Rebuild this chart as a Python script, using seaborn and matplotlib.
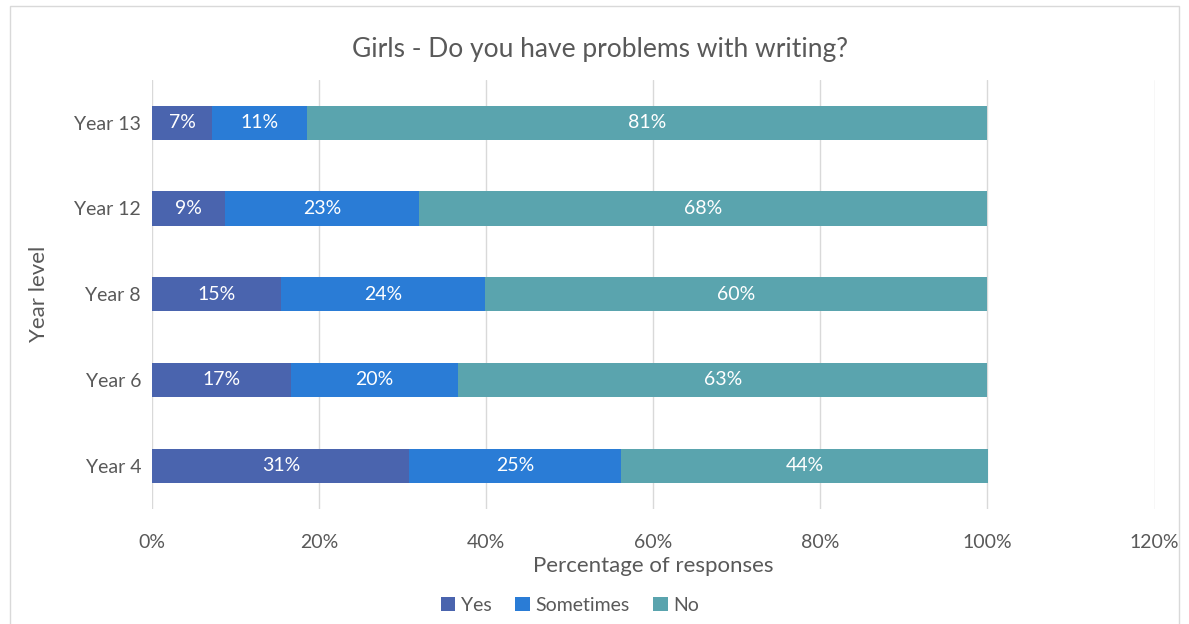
import matplotlib.pyplot as plt
import seaborn as sns
import numpy as np
import pandas as pd
from matplotlib.patches import Rectangle

# data (share of responses)
years = ["Year 13", "Year 12", "Year 8", "Year 6", "Year 4"]
yes = [0.072, 0.087, 0.154, 0.166, 0.308]
sometimes = [0.113, 0.233, 0.245, 0.200, 0.253]
no = [0.814, 0.680, 0.601, 0.634, 0.440]

series = ["Yes", "Sometimes", "No"]
colors = {"Yes": "#4A64AE", "Sometimes": "#2A7CD6", "No": "#5AA4AE"}

sns.set_theme(style="white")
plt.rcParams["font.family"] = ["Lato", "DejaVu Sans"]
txt = "#595959"

df = pd.DataFrame({"year": years, "Yes": yes, "Sometimes": sometimes, "No": no})
df["c_yes"] = df["Yes"]
df["c_some"] = df["Yes"] + df["Sometimes"]
df["c_no"] = df["c_some"] + df["No"]

fig, ax = plt.subplots(figsize=(11.89, 6.24), dpi=100)
fig.subplots_adjust(left=0.128, right=0.971, top=0.872, bottom=0.185)

# stack by overlaying cumulative totals, widest first
for col, name in [("c_no", "No"), ("c_some", "Sometimes"), ("c_yes", "Yes")]:
    sns.barplot(data=df, x=col, y="year", order=years, color=colors[name],
                width=0.4, ax=ax, label=name, saturation=1, zorder=3,
                linewidth=0)

# value labels centred in each segment
for i, row in df.iterrows():
    left = 0
    for name in series:
        v = row[name]
        ax.text(left + v / 2, i, f"{v * 100:.0f}%", ha="center", va="center",
                color="white", fontsize=14, zorder=4)
        left += v

ax.set_xlim(0, 1.2)
ax.set_xticks(np.arange(0, 1.21, 0.2))
ax.set_xticklabels([f"{int(round(t * 100))}%" for t in np.arange(0, 1.21, 0.2)])
ax.xaxis.grid(True, color="#D9D9D9", linewidth=1, zorder=0)
ax.yaxis.grid(False)
for s in ax.spines.values():
    s.set_visible(False)
ax.tick_params(axis="both", length=0, labelsize=14, colors=txt, pad=8)
ax.tick_params(axis="x", pad=18)

ax.set_xlabel("Percentage of responses", fontsize=16, color=txt, labelpad=4)
ax.set_ylabel("Year level", fontsize=16, color=txt, labelpad=18)
fig.suptitle("Girls - Do you have problems with writing?", fontsize=19,
             color=txt, x=0.505, y=0.94)

handles, labels = ax.get_legend_handles_labels()
order = [labels.index(n) for n in series]
ax.legend([handles[k] for k in order], series, loc="upper center",
          bbox_to_anchor=(0.417, -0.165), ncol=3, frameon=False, fontsize=14,
          labelcolor=txt, handlelength=0.75, handleheight=0.75,
          handletextpad=0.3, columnspacing=1.2)

fig.patches.append(Rectangle((0.008, -0.01), 0.984, 1.0, transform=fig.transFigure,
                             fill=False, edgecolor="#D9D9D9", linewidth=1))

plt.savefig("out.png", dpi=100)
